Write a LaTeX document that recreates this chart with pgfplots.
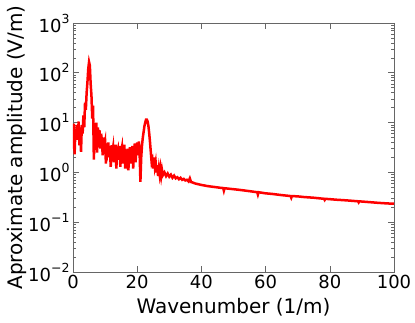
\documentclass[border=0pt]{standalone}
\usepackage{fontspec}
\setmainfont{DejaVu Sans}
\usepackage{pgfplots}
\pgfplotsset{compat=1.18}
\newcommand{\ex}[1]{\raisebox{0.5em}{\fontsize{12.5}{14}\selectfont #1}}

\begin{document}
\begin{tikzpicture}
\path[use as bounding box] (-73pt,-50pt) rectangle (342pt,272pt);
\begin{axis}[
  scale only axis,
  width=321pt, height=249pt,
  ymode=log,
  xmin=0, xmax=100,
  ymin=1e-2, ymax=1e3,
  xtick={0,20,40,60,80,100},
  ytick={1e-2,1e-1,1,10,100,1000},
  yticklabels={10\ex{−2},10\ex{−1},10\ex{0},10\ex{1},10\ex{2},10\ex{3}},
  /pgf/number format/assume math mode=true,
  tick align=inside,
  major tick length=6pt,
  minor tick length=3pt,
  every tick/.style={black!60, line width=0.6pt},
  every tick label/.append style={font=\fontsize{18}{20}\selectfont},
  label style={font=\fontsize{20}{22}\selectfont},
  xlabel={Wavenumber (1/m)},
  ylabel={Aproximate amplitude (V/m)},
  xlabel style={at={(axis description cs:0.5,-0.165)}, anchor=base},
  ylabel style={at={(axis description cs:-0.156,0.5)}, anchor=base},
  axis line style={black!60, line width=0.9pt},
]
\addplot[red, line width=2.5pt] coordinates {
(0,3.0) (0.25,9.5) (0.5,2.3) (0.75,7.5) (1.0,5.0) (1.25,9.0) (1.5,4.5) (1.75,10.5)
(2.0,3.5) (2.25,8.0) (2.5,2.6) (2.75,9.0) (3.0,6.0) (3.25,14.0) (3.5,8.0) (3.75,25.0)
(4.0,18.0) (4.25,40.0) (4.5,65.0) (4.75,120.0) (5.0,165.0) (5.25,140.0) (5.5,60.0) (5.75,35.0)
(6.0,12.0) (6.25,22.0) (6.5,1.8) (6.75,9.0) (7.0,4.0) (7.25,10.0) (7.5,2.5) (7.75,8.0)
(8.0,5.0) (8.25,7.0) (8.5,3.0) (8.75,6.0) (9.0,4.5) (9.25,2.2) (9.5,5.0) (9.75,3.5)
(10.0,4.2) (10.25,1.5) (10.5,3.8) (10.75,2.8) (11.0,4.0) (11.25,2.0) (11.5,3.0) (11.75,1.3)
(12.0,3.5) (12.25,2.5) (12.5,3.2) (12.75,1.6) (13.0,2.8) (13.25,3.6) (13.5,1.2) (13.75,2.6)
(14.0,3.0) (14.25,1.8) (14.5,3.4) (14.75,1.3) (15.0,2.6) (15.25,3.2) (15.5,1.5) (15.75,2.4)
(16.0,3.6) (16.25,1.2) (16.5,2.8) (16.75,2.0) (17.0,3.0) (17.25,1.1) (17.5,2.4) (17.75,3.2)
(18.0,1.5) (18.25,2.6) (18.5,3.4) (18.75,1.2) (19.0,2.5) (19.25,3.8) (19.5,1.6) (19.75,3.0)
(20.0,4.0) (20.25,2.2) (20.5,4.2) (20.75,2.5) (21.0,0.65) (21.25,2.0) (21.5,3.5) (21.75,5.0)
(22.0,6.5) (22.25,8.5) (22.5,10.0) (22.75,11.5) (23.0,11.5) (23.25,10.5) (23.5,8.5) (23.75,6.0)
(24.0,4.0) (24.25,2.5) (24.5,1.6) (24.75,1.8) (25.0,1.2) (25.25,2.0) (25.5,1.3) (25.75,1.6)
(26.0,1.0) (26.25,1.4) (26.5,0.85) (26.75,1.2) (27.0,0.9) (27.25,1.2) (27.5,0.85) (27.75,1.1)
(28.0,0.88) (28.5,1.0) (29.0,0.84) (29.5,0.95) (30.0,0.82) (30.5,0.9) (31.0,0.78) (31.5,0.86)
(32.0,0.76) (32.5,0.8) (33.0,0.73) (33.5,0.78) (34.0,0.71) (34.5,0.74) (35.0,0.69) (35.5,0.71)
(36.0,0.66) (36.4,0.76) (36.8,0.64) (37.5,0.62) (38.0,0.6) (39.0,0.58) (40.0,0.56)
(42.0,0.53) (44.0,0.51) (46.0,0.49) (46.8,0.485) (47.0,0.43) (47.2,0.48) (48.0,0.475)
(50.0,0.46) (52.0,0.445) (55.0,0.42) (57.4,0.40) (57.6,0.36) (57.8,0.40) (60.0,0.38)
(62.0,0.37) (65.0,0.35) (67.8,0.335) (68.0,0.31) (68.2,0.335) (70.0,0.33) (72.0,0.32)
(75.0,0.31) (78.2,0.295) (78.4,0.28) (78.6,0.295) (80.0,0.29) (82.0,0.283) (85.0,0.275)
(88.8,0.263) (89.0,0.25) (89.2,0.262) (90.0,0.26) (92.0,0.254) (95.0,0.245) (98.0,0.238) (100.0,0.235)
};
\end{axis}
\end{tikzpicture}
\end{document}
